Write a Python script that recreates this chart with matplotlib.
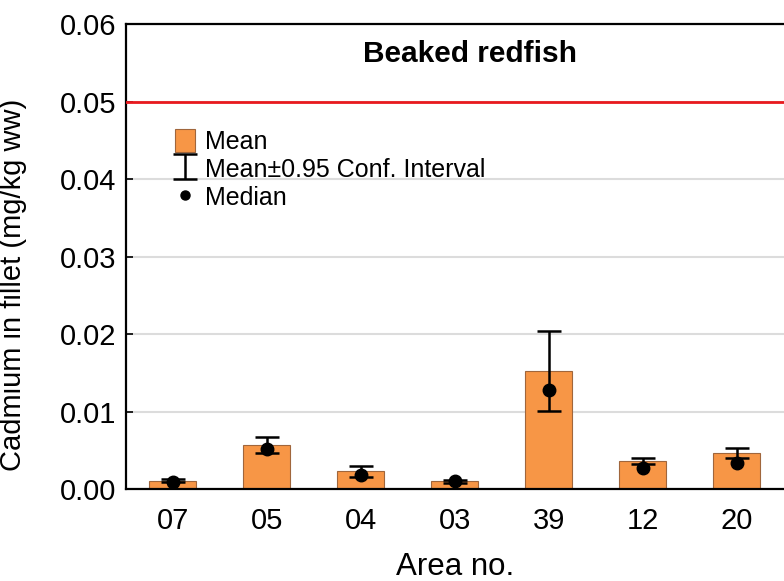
import matplotlib.pyplot as plt
from matplotlib.lines import Line2D
from matplotlib.patches import Patch

plt.rcParams["font.family"] = ["Liberation Sans", "DejaVu Sans"]

AREAS = ["07", "05", "04", "03", "39", "12", "20"]
MEAN = [0.00107, 0.0057, 0.00232, 0.00099, 0.01523, 0.00365, 0.00468]
CI_LOW = [0.0009, 0.00468, 0.0015, 0.0008, 0.0101, 0.00323, 0.00396]
CI_HIGH = [0.0013, 0.00667, 0.00293, 0.0012, 0.0204, 0.00404, 0.00533]
MEDIAN = [0.00094, 0.00512, 0.0018, 0.00098, 0.01273, 0.00275, 0.00331]
LIMIT = 0.05

BAR_COLOR = "#f79646"
EDGE_COLOR = "#a0663c"


def main() -> None:
    fig = plt.figure(figsize=(7.84, 5.81), dpi=100)
    ax = fig.add_axes([0.1607, 0.1583, 0.8393, 0.8004])

    x = list(range(len(AREAS)))
    yerr = [
        [m - lo for m, lo in zip(MEAN, CI_LOW)],
        [hi - m for m, hi in zip(MEAN, CI_HIGH)],
    ]

    ax.bar(x, MEAN, width=0.5, color=BAR_COLOR, edgecolor=EDGE_COLOR, linewidth=0.8, zorder=2)
    err = ax.errorbar(x, MEAN, yerr=yerr, fmt="none", ecolor="black", elinewidth=1.8,
                      capsize=8.5, capthick=1.8, zorder=3)
    ax.plot(x, MEDIAN, linestyle="none", marker="o", markersize=9, color="black", zorder=4)
    ax.axhline(LIMIT, color="#e8191e", linewidth=2, zorder=3)

    ax.set_xlim(-0.5, len(AREAS) - 0.5)
    ax.set_ylim(0, 0.06)
    ax.set_yticks([0.0, 0.01, 0.02, 0.03, 0.04, 0.05, 0.06])
    ax.set_yticklabels([f"{v:.2f}" for v in ax.get_yticks()])
    ax.set_xticks(x, AREAS)
    ax.tick_params(axis="both", direction="in", length=5, width=1.2, labelsize=21)
    ax.tick_params(axis="y", pad=7)
    ax.tick_params(axis="x", pad=13)
    ax.grid(axis="y", color="#dcdcdc", linewidth=1.5, zorder=0)
    ax.set_axisbelow(True)

    for side in ["left", "bottom", "top"]:
        ax.spines[side].set_linewidth(1.6)
    ax.spines["right"].set_visible(False)

    ax.set_xlabel("Area no.", fontsize=22.5, labelpad=12)
    ax.set_ylabel("Cadmium in fillet (mg/kg ww)", fontsize=21)
    ax.yaxis.set_label_coords(-0.150, 0.44)
    ax.text(0.523, 0.935, "Beaked redfish", transform=ax.transAxes, ha="center", va="center",
            fontsize=21.5, fontweight="bold")

    handles = [
        Patch(facecolor=BAR_COLOR, edgecolor=EDGE_COLOR, linewidth=0.8),
        err,
        Line2D([], [], linestyle="none", marker="o", markersize=6.5, color="black"),
    ]
    labels = ["Mean", "Mean\u00b10.95 Conf. Interval", "Median"]
    ax.legend(handles, labels, loc="upper left", bbox_to_anchor=(0.060, 0.795), frameon=False,
              fontsize=18, handlelength=0.8, handleheight=1.0, handletextpad=0.4,
              labelspacing=0.12, borderaxespad=0)

    fig.savefig("out.png", dpi=100)
    plt.close(fig)


if __name__ == "__main__":
    main()
